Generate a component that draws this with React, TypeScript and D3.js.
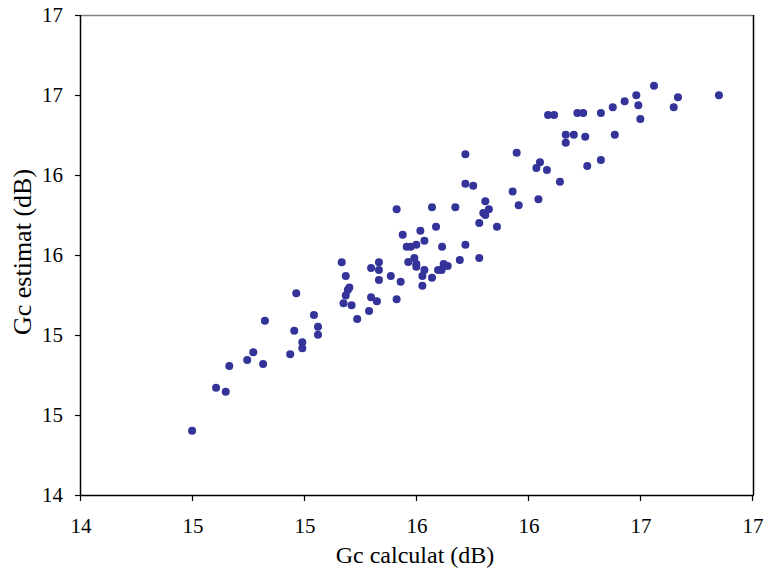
import React from "react";
import * as d3 from "d3";

// Gc calculat (dB)
const gcCalculat: number[] = [
  15.164, 15.295, 15.330, 15.330, 15.182, 15.383, 15.330, 15.198, 15.191, 15.182,
  15.295, 15.321, 15.409, 15.172, 15.208, 15.286, 15.233, 14.961, 14.821, 15.040,
  14.952, 15.058, 15.058, 14.988, 14.988, 14.769, 14.742, 14.934, 14.813, 14.662,
  14.603, 14.646, 14.496,
  15.716, 15.945, 16.049, 16.033, 16.080, 15.716, 15.751, 15.927, 15.805, 16.042,
  15.954, 15.409, 15.567, 15.671, 15.821, 15.796, 15.805, 15.778, 15.857, 15.585,
  15.436, 15.515, 15.533, 15.454, 15.472, 15.497, 15.612, 15.716, 15.488, 15.461,
  15.497, 15.497, 15.533, 15.524, 15.567, 15.594, 15.610, 15.619, 15.637, 15.691,
  15.778, 15.524, 15.427,
  16.558, 16.479, 16.848, 16.665, 16.427, 16.374, 16.488, 16.646, 16.085, 16.112,
  16.216, 16.242, 16.321, 16.497, 16.164, 16.200, 16.164, 16.251, 16.383, 16.260,
  16.321, 16.138,
];

// Gc estimat (dB)
const gcEstimat: number[] = [
  15.454, 15.419, 15.454, 15.406, 15.369, 15.369, 15.344, 15.297, 15.281, 15.247,
  15.236, 15.211, 15.223, 15.198, 15.186, 15.150, 15.100, 15.261, 15.089, 15.125,
  15.027, 15.052, 15.002, 14.954, 14.917, 14.892, 14.844, 14.879, 14.819, 14.806,
  14.671, 14.646, 14.402,
  16.129, 16.139, 16.079, 16.044, 16.031, 15.946, 15.933, 15.897, 15.836, 15.848,
  15.811, 15.786, 15.798, 15.798, 15.786, 15.763, 15.750, 15.700, 15.677, 15.677,
  15.627, 15.652, 15.589, 15.552, 15.552, 15.564, 15.552, 15.564, 15.481, 15.456,
  15.444, 15.427, 15.406, 15.369, 15.358, 15.406, 15.406, 15.444, 15.431, 15.469,
  15.481, 15.308, 15.333,
  16.558, 16.498, 16.498, 16.486, 16.461, 16.423, 16.436, 16.423, 16.375, 16.375,
  16.388, 16.388, 16.388, 16.350, 16.252, 16.252, 16.202, 16.239, 16.252, 16.056,
  16.094, 15.958,
];

const xTicks: number[] = [14, 14.5, 15, 15.5, 16, 16.5, 17];
const yTicks: number[] = [14, 14.5, 15, 15.5, 16, 16.5, 17];

const xTitle = "Gc calculat (dB)";
const yTitle = "Gc estimat (dB)";

export default function App() {
  const W = 764;
  const H = 572;
  const left = 81;
  const right = 753;
  const top = 15;
  const bottom = 495;

  const x = d3.scaleLinear().domain([14, 17]).range([left, right]);
  const y = d3.scaleLinear().domain([14, 17]).range([bottom, top]);
  const fmt = (v: number) => String(Math.round(v));
  const font = "'Liberation Serif', 'Times New Roman', serif";

  return (
    <svg
      width={W}
      height={H}
      style={{ position: "absolute", left: 0, top: 0, background: "#fff" }}
      fontFamily={font}
    >
      <rect x={0} y={0} width={W} height={H} fill="#fff" />
      {/* plot border top / right */}
      <line x1={left} x2={right} y1={top + 0.5} y2={top + 0.5} stroke="#808080" strokeWidth={1.5} />
      <line x1={right + 0.5} x2={right + 0.5} y1={top} y2={bottom} stroke="#000" strokeWidth={1.5} />
      {/* axes */}
      <line x1={left - 0.5} x2={left - 0.5} y1={top} y2={bottom + 1} stroke="#000" strokeWidth={1.5} />
      <line x1={left - 1} x2={right + 1} y1={bottom + 0.5} y2={bottom + 0.5} stroke="#000" strokeWidth={1.5} />
      {yTicks.map((t) => (
        <g key={"y" + t}>
          <line x1={left - 6} x2={left} y1={y(t) + 0.5} y2={y(t) + 0.5} stroke="#000" strokeWidth={1.2} />
          <text x={63} y={y(t)} dy="0.35em" textAnchor="end" fontSize={21} fill="#000">
            {fmt(t)}
          </text>
        </g>
      ))}
      {xTicks.map((t) => (
        <g key={"x" + t}>
          <line x1={x(t) - 0.5} x2={x(t) - 0.5} y1={bottom} y2={bottom + 6} stroke="#000" strokeWidth={1.2} />
          <text x={x(t)} y={533} textAnchor="middle" fontSize={21} fill="#000">
            {fmt(t)}
          </text>
        </g>
      ))}
      {gcCalculat.map((v, i) => (
        <circle key={i} cx={x(v)} cy={y(gcEstimat[i])} r={4} fill="#333399" />
      ))}
      <text x={415} y={563} textAnchor="middle" fontSize={24} fill="#000">
        {xTitle}
      </text>
      <text
        transform={`translate(31, 252) rotate(-90)`}
        textAnchor="middle"
        fontSize={26}
        fill="#000"
      >
        {yTitle}
      </text>
    </svg>
  );
}
